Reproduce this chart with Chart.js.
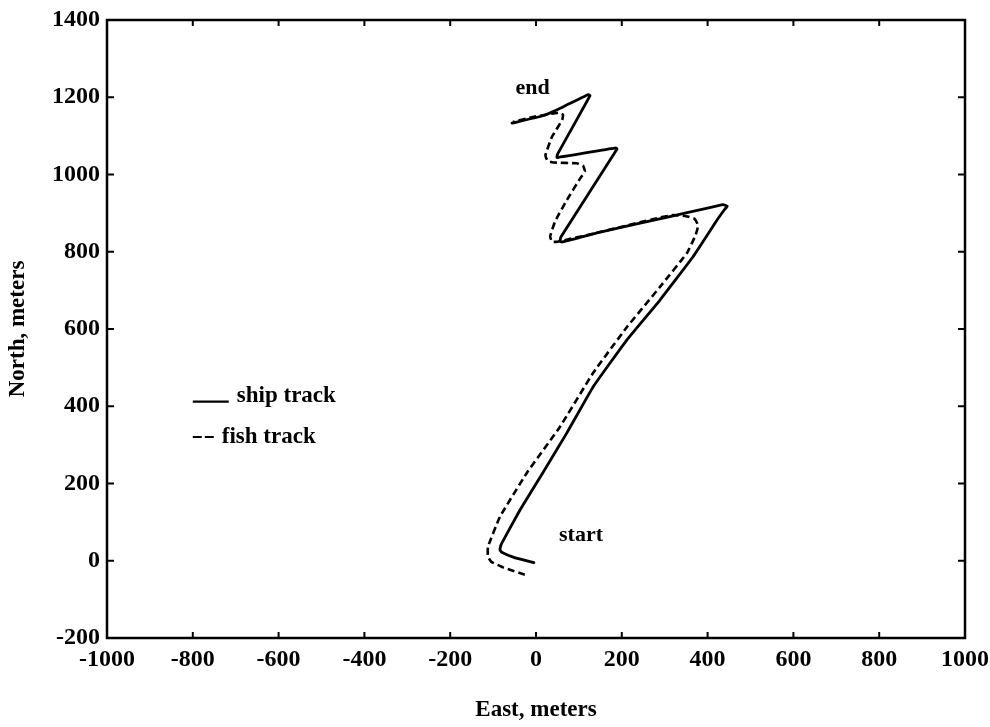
<!DOCTYPE html>
<html>
<head>
<meta charset="utf-8">
<script src="https://cdn.jsdelivr.net/npm/chart.js@4/dist/chart.umd.min.js"></script>
<style>
  html, body { margin: 0; padding: 0; background: #fff; }
  #wrap { width: 990px; height: 727px; }
</style>
</head>
<body>
<div id="wrap"><canvas id="c" width="990" height="727"></canvas></div>
<script>
// Ship track, metres east / north of the start point
const shipEast  = [-5, -50, -80, -84, -82, -79, -37, 16, 72, 133, 212, 289, 366, 422, 440, 446, 436, 296, 142, 60, 56, 58, 189, 186, 49, 50, 126, 122, 63, 16, -56];
const shipNorth = [-5, 8, 22, 28, 40, 47, 132, 228, 331, 450, 572, 675, 787, 882, 910, 918, 922, 887, 849, 825, 828, 838, 1066, 1069, 1044, 1052, 1204, 1207, 1175, 1152, 1133];

// Fish track, metres east / north of the start point
const fishEast  = [-26, -75, -104, -112, -112, -84, -21, 56, 133, 212, 289, 352, 372, 378, 370, 350, 319, 282, 142, 50, 37, 33, 45, 72, 103, 114, 110, 95, 40, 27, 22, 37, 61, 63, 52, -7, -54];
const fishNorth = [-36, -18, -3, 10, 36, 114, 228, 347, 486, 605, 709, 797, 843, 868, 885, 892, 895, 887, 849, 826, 826, 840, 880, 934, 990, 1008, 1022, 1029, 1031, 1035, 1050, 1097, 1141, 1155, 1160, 1149, 1136];

// Axis tick values
const xTicks = [-1000, -800, -600, -400, -200, 0, 200, 400, 600, 800, 1000];
const yTicks = [-200, 0, 200, 400, 600, 800, 1000, 1200, 1400];

// Text annotations placed in data coordinates
const labelText  = ['end', 'start'];
const labelEast  = [-8, 105];
const labelNorth = [1224, 67];

// Legend entries
const legendText  = ['ship track', 'fish track'];
const legendEast  = [-800, -800];
const legendNorth = [430, 323];

const SERIF = '"Liberation Serif", "DejaVu Serif", serif';

const toPoints = (xs, ys) => xs.map((x, i) => ({ x: x, y: ys[i] }));

const framePlugin = {
  id: 'frameAndNotes',
  afterDatasetsDraw(chart) {
    const { ctx, chartArea: a, scales: { x, y } } = chart;
    ctx.save();
    ctx.strokeStyle = '#000';
    ctx.lineWidth = 2.5;
    ctx.strokeRect(a.left, a.top, a.right - a.left, a.bottom - a.top);

    // inward tick marks on all four sides
    ctx.lineWidth = 2;
    ctx.beginPath();
    xTicks.forEach(v => {
      const px = x.getPixelForValue(v);
      ctx.moveTo(px, a.bottom); ctx.lineTo(px, a.bottom - 6);
      ctx.moveTo(px, a.top);    ctx.lineTo(px, a.top + 6);
    });
    yTicks.forEach(v => {
      const py = y.getPixelForValue(v);
      ctx.moveTo(a.left, py);  ctx.lineTo(a.left + 7, py);
      ctx.moveTo(a.right, py); ctx.lineTo(a.right - 7, py);
    });
    ctx.stroke();

    // annotations
    ctx.fillStyle = '#000';
    ctx.font = 'bold 22px ' + SERIF;
    ctx.textAlign = 'center';
    ctx.textBaseline = 'middle';
    labelText.forEach((t, i) => {
      ctx.fillText(t, x.getPixelForValue(labelEast[i]), y.getPixelForValue(labelNorth[i]));
    });

    // legend
    ctx.font = 'bold 23px ' + SERIF;
    ctx.textAlign = 'left';
    ctx.textBaseline = 'alphabetic';
    legendText.forEach((t, i) => {
      const lx = x.getPixelForValue(legendEast[i]);
      const ly = y.getPixelForValue(legendNorth[i]);
      ctx.lineWidth = 2.2;
      ctx.beginPath();
      if (i === 0) {
        ctx.moveTo(lx, ly + 7); ctx.lineTo(lx + 36, ly + 7);
        ctx.stroke();
        ctx.fillText(t, lx + 44, ly + 7);
      } else {
        ctx.moveTo(lx, ly + 1); ctx.lineTo(lx + 9, ly + 1);
        ctx.moveTo(lx + 12, ly + 1); ctx.lineTo(lx + 21, ly + 1);
        ctx.stroke();
        ctx.fillText(t, lx + 29, ly + 7);
      }
    });
    ctx.restore();
  }
};

new Chart(document.getElementById('c'), {
  type: 'scatter',
  data: {
    datasets: [
      {
        label: 'ship track',
        data: toPoints(shipEast, shipNorth),
        showLine: true,
        borderColor: '#000',
        borderWidth: 2.8,
        pointRadius: 0,
        tension: 0.1,
        borderJoinStyle: 'round',
        borderCapStyle: 'round'
      },
      {
        label: 'fish track',
        data: toPoints(fishEast, fishNorth),
        showLine: true,
        borderColor: '#000',
        borderWidth: 2.6,
        borderDash: [7, 4],
        pointRadius: 0,
        tension: 0.1,
        borderJoinStyle: 'round'
      }
    ]
  },
  options: {
    responsive: false,
    animation: false,
    layout: { padding: { top: 20, right: 25, left: 0, bottom: 0 } },
    plugins: { legend: { display: false }, tooltip: { enabled: false } },
    scales: {
      x: {
        type: 'linear',
        min: -1000, max: 1000,
        afterBuildTicks: s => { s.ticks = xTicks.map(v => ({ value: v })); },
        afterFit: s => { s.height = 89; s.paddingLeft = 0; s.paddingRight = 0; },
        grid: { display: false, drawTicks: false },
        border: { display: false },
        ticks: {
          color: '#000', padding: 7,
          font: { family: SERIF, size: 24, weight: 'bold' },
          maxRotation: 0, autoSkip: false,
          callback: v => String(v)
        },
        title: {
          display: true, text: 'East, meters', color: '#000',
          font: { family: SERIF, size: 23, weight: 'bold' },
          padding: { top: 0, bottom: 3 }
        }
      },
      y: {
        type: 'linear',
        min: -200, max: 1400,
        afterBuildTicks: s => { s.ticks = yTicks.map(v => ({ value: v })); },
        afterFit: s => { s.width = 107; s.paddingTop = 0; s.paddingBottom = 0; },
        grid: { display: false, drawTicks: false },
        border: { display: false },
        ticks: {
          color: '#000', padding: 7,
          font: { family: SERIF, size: 24, weight: 'bold' },
          autoSkip: false,
          callback: v => String(v)
        },
        title: {
          display: true, text: 'North, meters', color: '#000',
          font: { family: SERIF, size: 23, weight: 'bold' },
          padding: { top: 4, bottom: 0 }
        }
      }
    }
  },
  plugins: [framePlugin]
});
</script>
</body>
</html>
